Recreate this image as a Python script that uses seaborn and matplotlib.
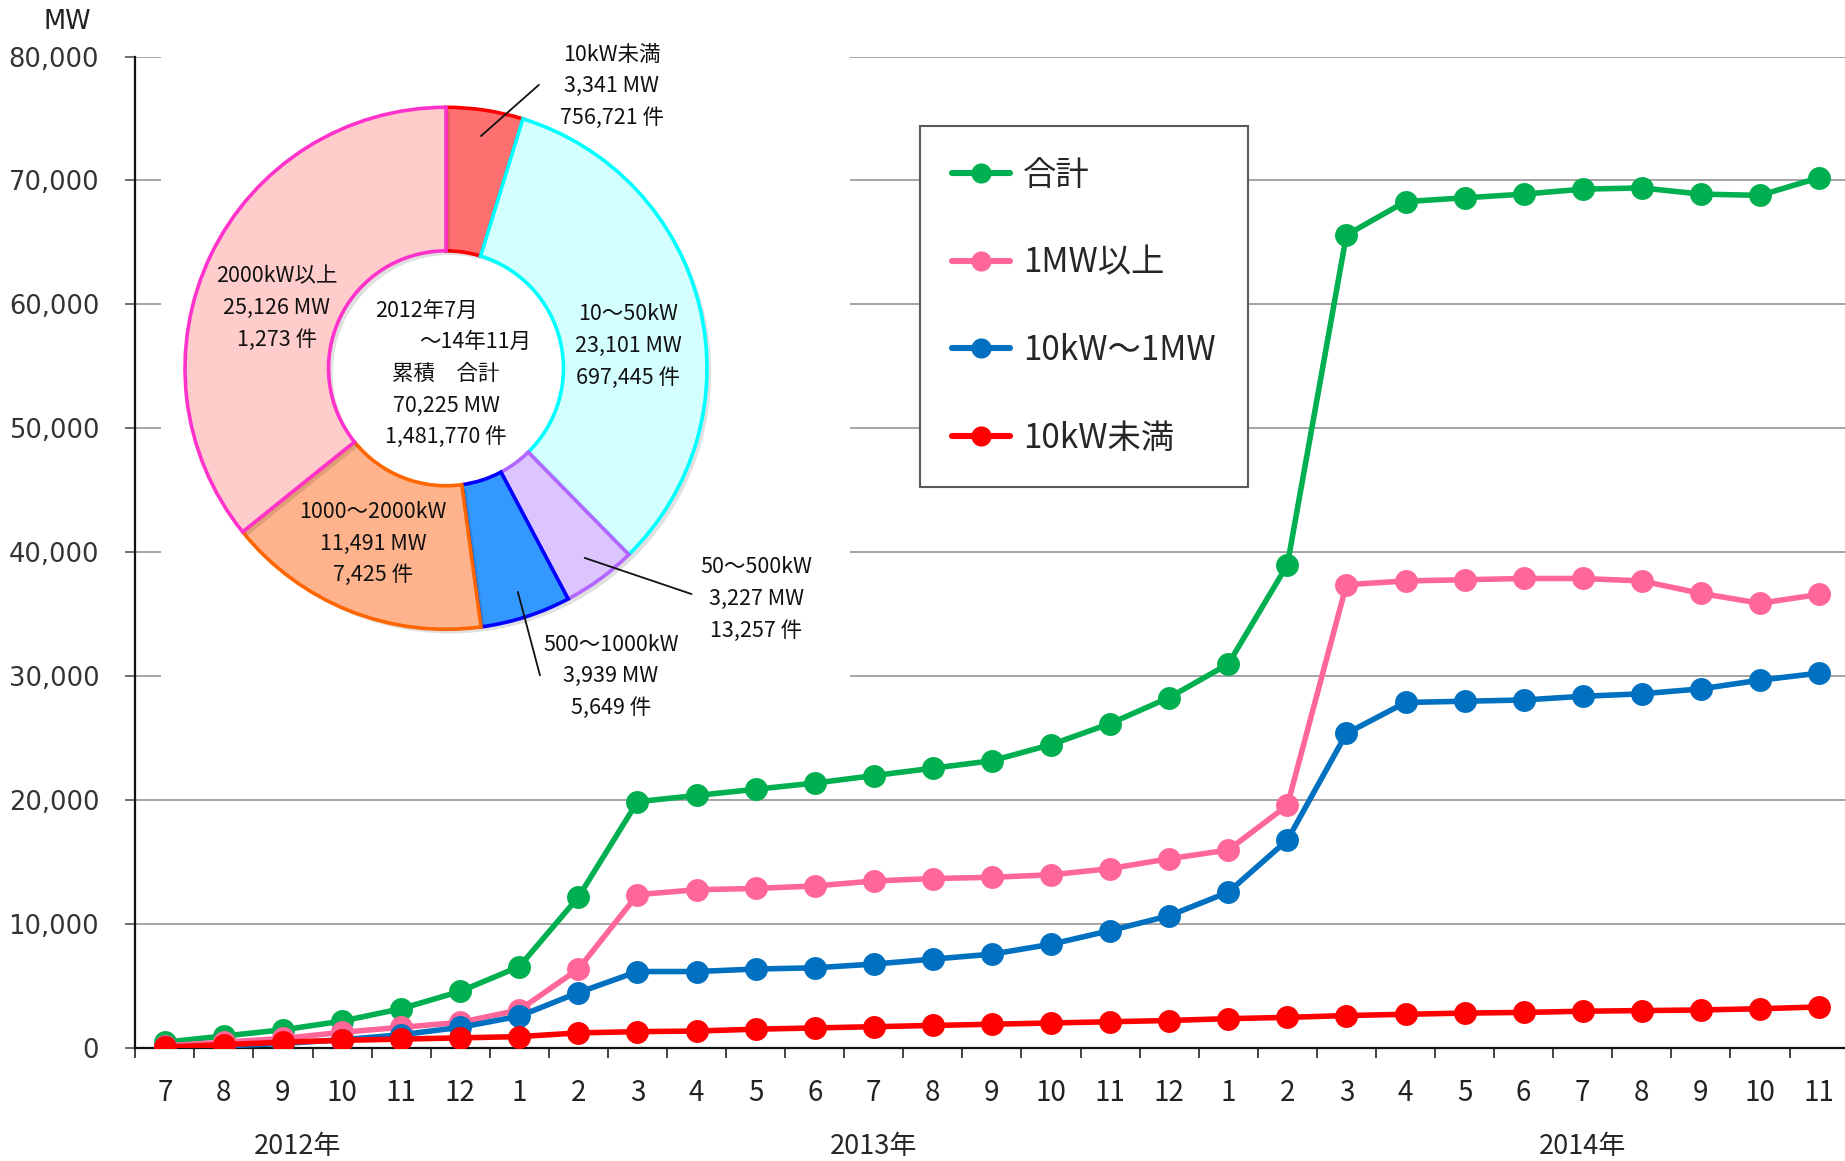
import numpy as np
import pandas as pd
import matplotlib
matplotlib.use("Agg")
import matplotlib.pyplot as plt
import matplotlib.patheffects as pe
from matplotlib.lines import Line2D
from matplotlib.patches import Rectangle
from matplotlib.ticker import FuncFormatter
import seaborn as sns

# ---- monthly cumulative capacity (MW), Jul 2012 - Nov 2014 ----
months = ["7", "8", "9", "10", "11", "12",
          "1", "2", "3", "4", "5", "6", "7", "8", "9", "10", "11", "12",
          "1", "2", "3", "4", "5", "6", "7", "8", "9", "10", "11"]
years = ["2012年", "2013年", "2014年"]
year_pos = [2.25, 12.0, 24.0]

total = [500, 1000, 1500, 2200, 3200, 4600, 6600, 12200, 19900, 20400, 20900,
         21400, 22000, 22600, 23200, 24500, 26200, 28300, 31000, 39000, 65600,
         68300, 68600, 68900, 69300, 69400, 68900, 68800, 70225]
mw1_plus = [200, 500, 800, 1300, 1700, 2100, 3100, 6400, 12400, 12800, 12900,
            13100, 13500, 13700, 13800, 14000, 14500, 15300, 16000, 19600, 37400,
            37700, 37800, 37900, 37900, 37700, 36700, 35900, 36617]
kw10_1mw = [100, 200, 400, 700, 1100, 1700, 2600, 4500, 6200, 6200, 6400,
            6500, 6800, 7200, 7600, 8400, 9500, 10700, 12600, 16800, 25400,
            27900, 28000, 28100, 28400, 28600, 29000, 29700, 30267]
under10kw = [100, 300, 500, 650, 750, 850, 950, 1250, 1350, 1400, 1550,
             1650, 1750, 1850, 1950, 2050, 2150, 2250, 2400, 2500, 2650,
             2750, 2850, 2900, 3000, 3050, 3100, 3200, 3341]

series_names = ["合計", "1MW以上", "10kW〜1MW", "10kW未満"]
series_colors = ["#00B050", "#FF6699", "#0070C0", "#FF0000"]

# ---- cumulative breakdown by size class ----
pie_labels = ["10kW未満", "10〜50kW", "50〜500kW", "500〜1000kW", "1000〜2000kW", "2000kW以上"]
pie_mw = [3341, 23101, 3227, 3939, 11491, 25126]
pie_counts = [756721, 697445, 13257, 5649, 7425, 1273]
pie_face = ["#FF7070", "#D4FFFF", "#DCC4FF", "#3399FF", "#FFB38C", "#FFCCCC"]
pie_edge = ["#FF0000", "#00FFFF", "#B366FF", "#0000FF", "#FF6600", "#FF33CC"]
center_lines = ["2012年7月", "〜14年11月", "累積　合計"]

sns.set_style("white")
plt.rcParams["font.family"] = ["Noto Sans CJK JP", "DejaVu Sans"]

W, H = 1845, 1161
fig = plt.figure(figsize=(W / 100, H / 100), dpi=100)

# main axes placed in pixel terms
left_px, right_px, top_px, bot_px = 135.3, 1848.6, 56.5, 1048.4
ax = fig.add_axes([left_px / W, 1 - bot_px / H, (right_px - left_px) / W, (bot_px - top_px) / H])

df = pd.DataFrame({
    "idx": np.tile(np.arange(len(months)), 4),
    "value": np.concatenate([total, mw1_plus, kw10_1mw, under10kw]),
    "series": np.repeat(series_names, len(months)),
})
sns.lineplot(data=df, x="idx", y="value", hue="series", hue_order=series_names,
             palette=series_colors, marker="o", markersize=16.5, markeredgewidth=0,
             linewidth=4.0, legend=False, sort=False, ax=ax, zorder=3)

ax.set_xlim(-0.5, len(months) - 0.5)
ax.set_ylim(0, 80000)
ax.set_xlabel("")
ax.set_ylabel("")

# y axis
ax.set_yticks(np.arange(0, 80001, 10000))
ax.yaxis.set_major_formatter(FuncFormatter(lambda v, p: f"{int(v):,}"))
for t in ax.get_yticklabels():
    t.set_fontfamily("DejaVu Sans")
ax.tick_params(axis="y", which="major", direction="out", length=7, width=1.2,
               color="#555555", labelsize=18.5, labelcolor="#333333", pad=19, left=True)
ax.set_axisbelow(True)
ax.yaxis.grid(True, color="#8C8C8C", linewidth=1.1)
ax.xaxis.grid(False)

# x axis: ticks at month boundaries, labels centred on months
ax.set_xticks(np.arange(-0.5, len(months), 1.0))
ax.set_xticklabels([])
ax.set_xticks(np.arange(len(months)), minor=True)
ax.set_xticklabels(months, minor=True)
ax.tick_params(axis="x", which="major", direction="out", length=7, width=1.2,
               color="#222222", bottom=True)
ax.tick_params(axis="x", which="minor", length=0, labelsize=20, pad=21, bottom=True,
               labelcolor="#222222")

for s in ["top", "right"]:
    ax.spines[s].set_visible(False)
for s in ["left", "bottom"]:
    ax.spines[s].set_color("#111111")
    ax.spines[s].set_linewidth(1.6)

# blank panel behind the doughnut
ax.add_patch(Rectangle((-0.06, 25200), 11.65, 60000, facecolor="white",
                       edgecolor="none", zorder=1))

# year captions under the month labels (baseline placed just above the figure edge)
year_y = (bot_px - 1154) / (bot_px - top_px)
for yr, xp in zip(years, year_pos):
    ax.text(xp, year_y, yr, transform=ax.get_xaxis_transform(), ha="center",
            va="baseline", fontsize=19.5)

fig.text(67 / W, 1 - 22 / H, "MW", ha="center", va="center", fontsize=18.5,
         fontfamily="DejaVu Sans", color="#222222")

# legend
handles = [Line2D([0], [0], color=c, lw=4.4, marker="o", markersize=14.5,
                  markeredgewidth=0) for c in series_colors]
leg = fig.legend(handles, series_names, loc="upper left",
                 bbox_to_anchor=(920 / W, 1 - 126 / H), bbox_transform=fig.transFigure,
                 frameon=True, fancybox=False, edgecolor="#595959", framealpha=1,
                 borderpad=0.95, labelspacing=1.58, handlelength=1.75, handletextpad=0.4,
                 borderaxespad=0, fontsize=24)
leg.get_frame().set_linewidth(1.5)

# ---- doughnut ----
cx, cy, rad = 446.0, 368.3, 261.0
pax = fig.add_axes([(cx - rad) / W, 1 - (cy + rad) / H, 2 * rad / W, 2 * rad / H])
wedges, _ = pax.pie(pie_mw, startangle=90, counterclock=False, radius=1.0,
                    wedgeprops=dict(width=0.55, linewidth=2.6))
for w, fc, ec in zip(wedges, pie_face, pie_edge):
    w.set_facecolor(fc)
    w.set_edgecolor(ec)
    w.set_path_effects([pe.SimplePatchShadow(offset=(3, -3), shadow_rgbFace="#000000",
                                             alpha=0.12), pe.Normal()])
pax.set_xlim(-1, 1)
pax.set_ylim(-1, 1)
pax.set_aspect("equal")
pax.axis("off")

pitch = 0.1216
fs = 15.5


def stacked(x, y, lines, xoffs=None):
    n = len(lines)
    for i, s in enumerate(lines):
        dx = 0 if xoffs is None else xoffs[i]
        pax.text(x + dx, y + (n - 1) / 2 * pitch - i * pitch, s, ha="center",
                 va="center_baseline", fontsize=fs, color="#111111", clip_on=False)


label_pos = [(0.635, 1.09), (0.698, 0.095), (1.189, -0.874),
             (0.631, -1.171), (-0.279, -0.662), (-0.649, 0.239)]
leader_end = {0: (0.356, 1.086), 2: (0.941, -0.865), 3: (0.36, -1.176)}

for i, (lab, mw, cnt) in enumerate(zip(pie_labels, pie_mw, pie_counts)):
    x, y = label_pos[i]
    stacked(x, y, [lab, f"{mw:,} MW", f"{cnt:,} 件"])
    if i in leader_end:
        w = wedges[i]
        mid = np.deg2rad((w.theta1 + w.theta2) / 2)
        sx, sy = 0.9 * np.cos(mid), 0.9 * np.sin(mid)
        ex, ey = leader_end[i]
        pax.add_line(Line2D([sx, ex], [sy, ey], color="#111111", lw=1.3, clip_on=False))

stacked(0.0, -0.012, center_lines + [f"{sum(pie_mw):,} MW", f"{sum(pie_counts):,} 件"],
        xoffs=[-0.077, 0.113, 0, 0, 0])

fig.savefig("out.png", dpi=100)
